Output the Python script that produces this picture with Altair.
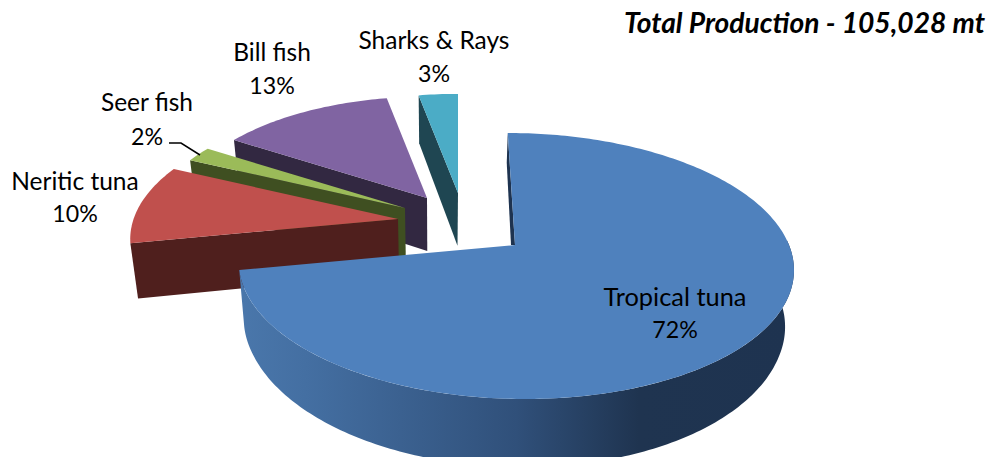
import math
import altair as alt

# Catch shares by species group, drawn as an exploded 3D pie
categories = ["Tropical tuna", "Neritic tuna", "Seer fish", "Bill fish", "Sharks & Rays"]
shares = [72, 10, 2, 13, 3]
top_colors = ["#4f81bd", "#c0504d", "#9bbb59", "#8064a2", "#4bacc6"]
wall_colors = ["#1e3350", "#4f1f1d", "#3f4f21", "#322841", "#1f4652"]

# Placement of every slice after explosion: tip position, relative size, lean
tip_x = [515, 398, 405, 427, 458]
tip_y = [245, 219, 208, 198, 193]
slice_scale = [1.0, 0.965, 0.925, 0.905, 0.885]
slice_lean = [8.4, 0, 0, 0, 0]

# Label anchor points and type sizes
label_x = [675, 75, 147, 272, 434]
name_y = [298, 183, 104, 54, 42]
pct_y = [331, 215, 138, 87, 75]
name_size = [25.4, 24.5, 24.5, 24.5, 24.5]
PCT_SIZE = 23.2

title_text = "Total Production - 105,028 mt"
FONT = "Lato"

# Perspective disc parameters
RX, RY, PERSP = 274.0, 129.7, 0.158
START_DEG = 0.0


def rim(i, deg):
    t = math.radians(deg)
    u, v = math.sin(t), math.cos(t)
    w = 1 + PERSP * v
    s = slice_scale[i]
    return (tip_x[i] + (s * RX * u - slice_lean[i] * v) / w, tip_y[i] - s * RY * v / w)


def drop(p):
    # Lower edge of the disc thickness for a point on the upper face
    x, y = p
    depth = max(48 + (y - 97) * 0.05, 55 + (y - 265) * 0.098)
    return (438 + (x - 438) * 0.975, y + depth)


def polygon(points, fill):
    ring = [list(p) for p in points] + [list(points[0])]
    return {
        "type": "Feature",
        "properties": {"fill": fill},
        "geometry": {"type": "Polygon", "coordinates": [ring]},
    }


spans = []
acc = START_DEG
for s in shares:
    spans.append((acc, acc + s * 3.6))
    acc += s * 3.6

faces_back = []
for i in [4, 3, 2, 1]:
    a0, a1 = spans[i]
    steps = max(4, int(a1 - a0))
    arc = [rim(i, a0 + (a1 - a0) * k / steps) for k in range(steps + 1)]
    tip = (tip_x[i], tip_y[i])
    faces_back.append(polygon([arc[0], tip, drop(tip), drop(arc[0])], wall_colors[i]))
    faces_back.append(polygon(arc + [tip], top_colors[i]))

# Largest slice: narrow sliver of its cut face, curved wall, upper face
a0, a1 = spans[0]
top_arc = [rim(0, a0 + (a1 - a0) * k / 260) for k in range(261)]
tip0 = (tip_x[0], tip_y[0])
sliver = polygon([top_arc[0], tip0, (tip0[0] - 4, tip0[1]), (top_arc[0][0] - 1, top_arc[0][1] + 30)], wall_colors[0])
wall_arc = [rim(0, d) for d in range(88, int(a1) + 1)] + [rim(0, a1)]
curved = polygon(wall_arc + [drop(p) for p in reversed(wall_arc)], "none")
face0 = polygon(top_arc + [tip0], top_colors[0])

leader = {
    "type": "Feature",
    "properties": {},
    "geometry": {"type": "LineString", "coordinates": [[169, 143], [181, 143], [200, 155]]},
}

proj = alt.Projection(type="identity", scale=1, translate=[0, 0])
fill_field = alt.Fill("properties.fill:N", scale=None, legend=None)

back = alt.Chart(alt.Data(values=faces_back + [sliver])).mark_geoshape(strokeWidth=0).encode(fill=fill_field).project(**proj.to_dict())

wall_gradient = alt.Gradient(
    gradient="linear", x1=0, x2=1, y1=0, y2=0,
    stops=[
        alt.GradientStop(offset=0.0, color="#4a77ab"),
        alt.GradientStop(offset=0.12, color="#446fa2"),
        alt.GradientStop(offset=0.5, color="#30507a"),
        alt.GradientStop(offset=0.72, color="#1f3450"),
        alt.GradientStop(offset=1.0, color="#1e3350"),
    ],
)
wall = alt.Chart(alt.Data(values=[curved])).mark_geoshape(fill=wall_gradient, strokeWidth=0).project(**proj.to_dict())
face = alt.Chart(alt.Data(values=[face0])).mark_geoshape(strokeWidth=0).encode(fill=fill_field).project(**proj.to_dict())
line = alt.Chart(alt.Data(values=[leader])).mark_geoshape(filled=False, stroke="black", strokeWidth=1.5).project(**proj.to_dict())

rows = []
for i, c in enumerate(categories):
    rows.append({"txt": c, "lx": label_x[i], "ly": name_y[i], "fs": name_size[i]})
    rows.append({"txt": f"{shares[i]}%", "lx": label_x[i], "ly": pct_y[i], "fs": PCT_SIZE})

labels = alt.Chart(alt.Data(values=rows)).mark_text(
    font=FONT, color="black", align="center", baseline="middle"
).encode(
    x=alt.X("lx:Q", scale=None),
    y=alt.Y("ly:Q", scale=None),
    size=alt.Size("fs:Q", scale=None, legend=None),
    text="txt:N",
)

title = alt.Chart(alt.Data(values=[{"txt": title_text, "lx": 985, "ly": 25}])).mark_text(
    font=FONT, fontSize=28.2, fontWeight="bold", fontStyle="italic",
    color="black", align="right", baseline="middle"
).encode(
    x=alt.X("lx:Q", scale=None),
    y=alt.Y("ly:Q", scale=None),
    text="txt:N",
)

chart = alt.layer(back, wall, face, line, labels, title).properties(
    width=989, height=457, padding=0, autosize=alt.AutoSizeParams(type="none"), background="white"
).configure_view(stroke=None)

chart.save("out.html", embed_options={"renderer": "svg", "actions": False})
